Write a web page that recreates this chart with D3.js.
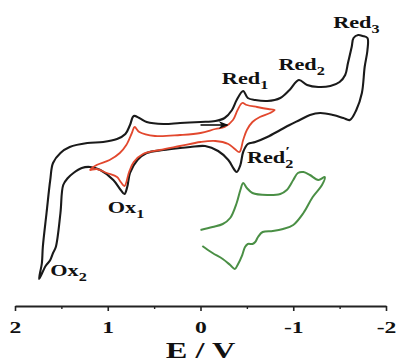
<!DOCTYPE html>
<html>
<head>
<meta charset="utf-8">
<script src="https://cdn.jsdelivr.net/npm/d3@7"></script>
<style>
  body { margin: 0; background: #fff; }
  svg { display: block; }
  .lbl { font-family: "Liberation Serif", "Times New Roman", serif; font-weight: bold; fill: #111; }
</style>
</head>
<body>
<svg id="cv" width="399" height="363"></svg>
<script>
// Potential E (V) and current I (arbitrary units, cathodic up)

// Black: full scan 0 -> -1.8 -> +1.75 -> 0 V
const blackScan = [
  [0.00, 19], [-0.16, 19.5], [-0.26, 21], [-0.34, 25], [-0.39, 30], [-0.46, 34.5],
  [-0.51, 31], [-0.59, 30], [-0.72, 29.5], [-0.86, 31], [-0.96, 35], [-1.06, 40],
  [-1.15, 37.5], [-1.27, 36.5], [-1.40, 37], [-1.50, 39], [-1.56, 42.5], [-1.59, 48.5],
  [-1.63, 56.5], [-1.65, 61], [-1.70, 62.5], [-1.75, 62], [-1.80, 61], [-1.80, 55],
  [-1.77, 46.5], [-1.74, 33.5], [-1.68, 25], [-1.61, 20], [-1.54, 21], [-1.43, 22.5],
  [-1.29, 23.5], [-1.18, 22.5], [-1.07, 20], [-0.96, 17.5], [-0.86, 15], [-0.72, 11.5],
  [-0.59, 9], [-0.51, 8], [-0.46, 4], [-0.43, -2.5], [-0.39, -6], [-0.36, -4.5],
  [-0.30, 0], [-0.19, 4.5], [-0.05, 7], [0.11, 6.5], [0.22, 6], [0.40, 5],
  [0.58, 3.5], [0.68, 0], [0.76, -6.5], [0.79, -13.5], [0.82, -17], [0.86, -15],
  [0.94, -10], [1.08, -5], [1.19, -3.5], [1.28, -4], [1.37, -6.5], [1.43, -9],
  [1.48, -12.5], [1.51, -26.5], [1.56, -43.5], [1.59, -46.5], [1.62, -50], [1.67, -53],
  [1.74, -59.5], [1.71, -51.5], [1.70, -43.5], [1.66, -26.5], [1.62, -10], [1.59, -1.5],
  [1.51, 3.5], [1.41, 6.5], [1.22, 8.5], [1.05, 9], [0.90, 10.5], [0.81, 13],
  [0.76, 17.5], [0.72, 22], [0.66, 21], [0.58, 19], [0.40, 18], [0.22, 18.5]
];

// Red: scan between +1.2 and -0.8 V
const redScan = [
  [0.00, 13.5], [-0.16, 15.5], [-0.26, 16.5], [-0.35, 20], [-0.40, 25], [-0.45, 28.5],
  [-0.50, 27.5], [-0.61, 26.5], [-0.73, 25.5], [-0.80, 25], [-0.75, 23.5], [-0.64, 21.5],
  [-0.56, 19], [-0.50, 15], [-0.46, 10], [-0.42, 4], [-0.37, 5.5], [-0.30, 8],
  [-0.16, 9.5], [0.00, 9], [0.22, 7], [0.44, 5], [0.62, 3], [0.72, -1],
  [0.77, -6], [0.82, -13], [0.86, -11], [0.90, -8.5], [1.01, -6.5], [1.12, -4.5],
  [1.19, -5], [1.12, -2.5], [0.98, 0], [0.87, 3.5], [0.80, 7.5], [0.74, 13.5],
  [0.71, 16.5], [0.66, 14], [0.49, 12], [0.22, 12.5]
];

// Green: scan from 0 to -1.35 V and back
const greenScan = [
  [0.00, -35], [-0.13, -33.5], [-0.24, -32], [-0.32, -29], [-0.39, -21.5], [-0.43, -15],
  [-0.46, -11.5], [-0.50, -14], [-0.56, -16.5], [-0.72, -17.5], [-0.86, -17], [-0.93, -15],
  [-1.00, -10], [-1.05, -6.5], [-1.11, -6], [-1.18, -7.5], [-1.27, -10], [-1.34, -8.5],
  [-1.31, -12.5], [-1.21, -18.5], [-1.11, -26.5], [-1.00, -32.5], [-0.89, -34.5], [-0.78, -35.5],
  [-0.67, -36], [-0.62, -38.5], [-0.59, -41], [-0.56, -42], [-0.51, -42], [-0.48, -43.5],
  [-0.45, -47.5], [-0.40, -52.5], [-0.37, -54.5], [-0.32, -52.5], [-0.24, -49.5], [-0.13, -46.5],
  [-0.02, -43]
];

const majorTicks = [2, 1, 0, -1, -2];
const minorTicks = [1.5, 0.5, -0.5, -1.5];
const scanArrow = [0.0, -0.29]; // start and end potential of the scan-direction arrow

// Peak labels: text, subscript, prime, anchor (E, I)
const peakLabels = [
  { main: "Red", sub: "1", prime: false, E: -0.23, I: 38 },
  { main: "Red", sub: "2", prime: false, E: -0.84, I: 45 },
  { main: "Red", sub: "3", prime: false, E: -1.43, I: 66 },
  { main: "Red", sub: "2", prime: true, E: -0.50, I: -1.5 },
  { main: "Ox", sub: "1", prime: false, E: 1.00, I: -26.5 },
  { main: "Ox", sub: "2", prime: false, E: 1.62, I: -58 }
];

const svg = d3.select("#cv");
const STRETCH = 1.35; // the printed type is wide

const x = d3.scaleLinear().domain([2, -2]).range([15, 386]);
const y = d3.scaleLinear().domain([-60, 60]).range([280, 40]);

const loopLine = d3.line()
  .x(d => x(d[0]))
  .y(d => y(d[1]))
  .curve(d3.curveCatmullRomClosed.alpha(0.5));

const openLine = d3.line()
  .x(d => x(d[0]))
  .y(d => y(d[1]))
  .curve(d3.curveCatmullRom.alpha(0.5));

svg.append("path").datum(blackScan)
  .attr("d", loopLine).attr("fill", "none")
  .attr("stroke", "#1a1a1a").attr("stroke-width", 2.1).attr("stroke-linejoin", "round");

svg.append("path").datum(redScan)
  .attr("d", loopLine).attr("fill", "none")
  .attr("stroke", "#e2482e").attr("stroke-width", 1.8).attr("stroke-linejoin", "round");

svg.append("path").datum(greenScan)
  .attr("d", openLine).attr("fill", "none")
  .attr("stroke", "#4a8f45").attr("stroke-width", 2).attr("stroke-linejoin", "round");

// scan direction arrow
svg.append("defs").append("marker")
  .attr("id", "head").attr("viewBox", "0 0 10 10")
  .attr("refX", 9).attr("refY", 5)
  .attr("markerWidth", 6).attr("markerHeight", 6)
  .attr("orient", "auto")
  .append("path").attr("d", "M0,1 L10,5 L0,9 L3,5 Z").attr("fill", "#111");

svg.append("line")
  .attr("x1", x(scanArrow[0])).attr("x2", x(scanArrow[1]))
  .attr("y1", y(17.5)).attr("y2", y(17.5))
  .attr("stroke", "#111").attr("stroke-width", 1.6)
  .attr("marker-end", "url(#head)");

// axis
const axisY = 306;
const major = svg.append("g").attr("transform", `translate(0,${axisY})`)
  .call(d3.axisBottom(x).tickValues(majorTicks).tickSize(5).tickSizeOuter(0)
    .tickFormat(d => String(d)));
major.select(".domain").attr("stroke", "#222").attr("stroke-width", 2);
major.selectAll(".tick line").attr("stroke", "#222").attr("stroke-width", 1.6);
major.selectAll(".tick text")
  .attr("class", "lbl").attr("font-size", 17.5)
  .attr("y", 27).attr("dy", 0)
  .attr("transform", `scale(${STRETCH},1)`);

const minor = svg.append("g").attr("transform", `translate(0,${axisY})`)
  .call(d3.axisBottom(x).tickValues(minorTicks).tickSize(3).tickFormat(""));
minor.select(".domain").remove();
minor.selectAll(".tick line").attr("stroke", "#222").attr("stroke-width", 1.4);

svg.append("text")
  .attr("class", "lbl").attr("font-size", 24)
  .attr("text-anchor", "middle")
  .attr("transform", `translate(${x(0)},358) scale(${STRETCH},1)`)
  .text("E / V");

// peak labels
peakLabels.forEach(p => {
  const t = svg.append("text")
    .attr("class", "lbl").attr("font-size", 16.5)
    .attr("transform", `translate(${x(p.E)},${y(p.I)}) scale(${STRETCH},1)`);
  t.append("tspan").text(p.main);
  t.append("tspan").attr("font-size", 12).attr("dy", 4.5).text(p.sub);
  if (p.prime) {
    t.append("tspan").attr("font-size", 13).attr("dx", -6).attr("dy", -13).text("\u2032");
  }
});
</script>
</body>
</html>
